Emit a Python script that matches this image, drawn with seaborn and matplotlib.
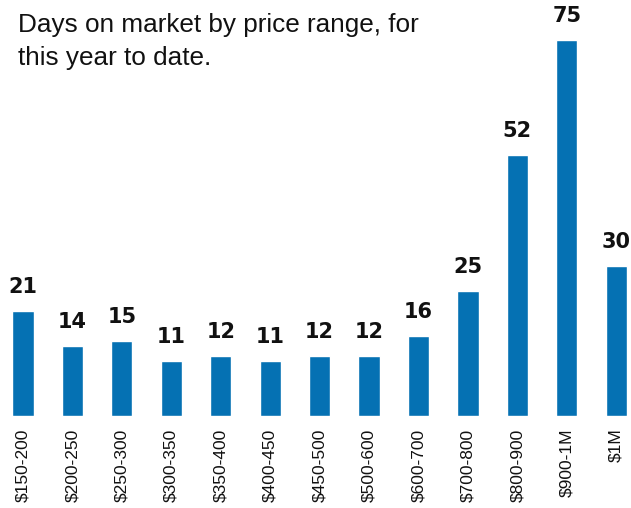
import matplotlib
matplotlib.use("Agg")
import matplotlib.pyplot as plt
import seaborn as sns
import pandas as pd

categories = ["$150-200", "$200-250", "$250-300", "$300-350", "$350-400", "$400-450",
              "$450-500", "$500-600", "$600-700", "$700-800", "$800-900", "$900-1M", "$1M"]
days = [21, 14, 15, 11, 12, 11, 12, 12, 16, 25, 52, 75, 30]
title = "Days on market by price range, for\nthis year to date."

sns.set_theme(style="white")
plt.rcParams['font.family'] = ['Liberation Sans', 'DejaVu Sans']

df = pd.DataFrame({"range": categories, "days": days})

fig = plt.figure(figsize=(6.31, 5.08), dpi=100)
ax = fig.add_axes([0, 92 / 508, 1, 416 / 508])
sns.barplot(data=df, x="range", y="days", color="#0571b3", saturation=1,
            width=0.43, ax=ax)
ax.set_xlim(-0.465, 12.30)
ax.set_ylim(0, 83)
for s in ax.spines.values():
    s.set_visible(False)
ax.set_yticks([])
ax.set_xlabel("")
ax.set_ylabel("")
ax.tick_params(axis="x", length=0, pad=9, labelsize=12.5, labelcolor="#111111")
plt.setp(ax.get_xticklabels(), rotation=90, va="top", ha="center")

for i, v in enumerate(days):
    ax.annotate(str(v), (i, v), xytext=(0, 10), textcoords="offset points",
                ha="center", va="bottom", fontsize=15, fontweight="heavy",
                family="DejaVu Sans", color="#111111")

fig.text(18 / 631, 1 - 13 / 508, title, ha="left", va="top", fontsize=18.8,
         color="#111111", linespacing=1.5)

fig.savefig("out.png", dpi=100)
